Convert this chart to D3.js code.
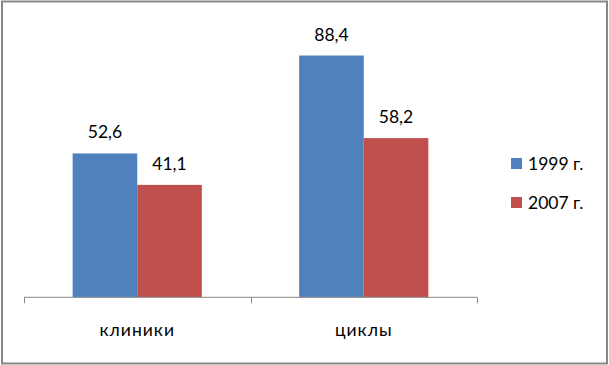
<!DOCTYPE html>
<html>
<head>
<meta charset="utf-8">
<script src="https://cdn.jsdelivr.net/npm/d3@7"></script>
<style>
  body { margin: 0; background: #fff; }
  text { font-family: Lato, "Open Sans", sans-serif; fill: #000; }
</style>
</head>
<body>
<div class="chart"></div>
<script>
// Chart data
var categories = ["клиники", "циклы"];
var seriesNames = ["1999 г.", "2007 г."];
var values1999 = [52.6, 88.4];
var values2007 = [41.1, 58.2];
var colors = ["#4F81BD", "#C0504D"];

var svgWidth = 609;
var svgHeight = 365;
var plot = { left: 24, right: 477, top: 23.8, bottom: 297.3 };

var svg = d3.select(".chart")
    .append("svg")
    .attr("width", svgWidth)
    .attr("height", svgHeight);

// outer frame
svg.append("rect")
    .attr("x", 2)
    .attr("y", 1.5)
    .attr("width", 605)
    .attr("height", 362)
    .attr("fill", "#fff")
    .attr("stroke", "#878787")
    .attr("stroke-width", 2);

var x0 = d3.scaleBand()
    .domain(categories)
    .range([plot.left, plot.right])
    .paddingInner(0)
    .paddingOuter(0);

var x1 = d3.scaleBand()
    .domain(seriesNames)
    .range([0, 129.2]);

var y = d3.scaleLinear()
    .domain([0, 100])
    .range([plot.bottom, plot.top]);

var rows = categories.map(function (c, i) {
    return { cat: c, vals: [values1999[i], values2007[i]] };
});

var groups = svg.selectAll(".group")
    .data(rows)
    .enter()
    .append("g")
    .attr("transform", function (d) {
        return "translate(" + (x0(d.cat) + (x0.bandwidth() - 129.2) / 2) + ",0)";
    });

groups.selectAll("rect")
    .data(function (d) { return d.vals; })
    .enter()
    .append("rect")
    .attr("x", function (d, i) { return x1(seriesNames[i]); })
    .attr("y", function (d) { return y(d); })
    .attr("width", x1.bandwidth())
    .attr("height", function (d) { return plot.bottom - y(d); })
    .attr("fill", function (d, i) { return colors[i]; });

groups.selectAll(".val")
    .data(function (d) { return d.vals; })
    .enter()
    .append("text")
    .attr("class", "val")
    .attr("x", function (d, i) { return x1(seriesNames[i]) + x1.bandwidth() / 2; })
    .attr("y", function (d) { return y(d) - 15; })
    .attr("text-anchor", "middle")
    .style("font-size", "17.5px")
    .text(function (d) { return String(d).replace(".", ","); });

// x axis
var bottomAxis = d3.axisBottom(x0).tickSize(6).tickFormat("");
var axisG = svg.append("g")
    .attr("transform", "translate(0," + plot.bottom + ")")
    .call(bottomAxis);
axisG.selectAll(".tick").remove();
axisG.select(".domain").remove();
var edges = [plot.left].concat(categories.map(function (c) { return x0(c) + x0.bandwidth(); }));
axisG.append("line")
    .attr("x1", plot.left).attr("x2", plot.right)
    .attr("y1", 0).attr("y2", 0)
    .attr("stroke", "#878787");
axisG.selectAll(".edge")
    .data(edges)
    .enter()
    .append("line")
    .attr("x1", function (d) { return Math.round(d) + 0.5; })
    .attr("x2", function (d) { return Math.round(d) + 0.5; })
    .attr("y1", 0).attr("y2", 6)
    .attr("stroke", "#878787");

svg.selectAll(".cat")
    .data(categories)
    .enter()
    .append("text")
    .attr("class", "cat")
    .attr("x", function (d) { return x0(d) + x0.bandwidth() / 2; })
    .attr("y", 336)
    .attr("text-anchor", "middle")
    .style("font-size", "17.5px")
    .style("letter-spacing", "1px")
    .text(function (d) { return d; });

// legend
var legend = svg.selectAll(".legend")
    .data(seriesNames)
    .enter()
    .append("g")
    .attr("transform", function (d, i) { return "translate(511," + (158 + i * 39) + ")"; });
legend.append("rect")
    .attr("width", 11)
    .attr("height", 11)
    .attr("fill", function (d, i) { return colors[i]; });
legend.append("text")
    .attr("x", 17)
    .attr("y", 11.5)
    .style("font-size", "17.5px")
    .text(function (d) { return d; });
</script>
</body>
</html>
